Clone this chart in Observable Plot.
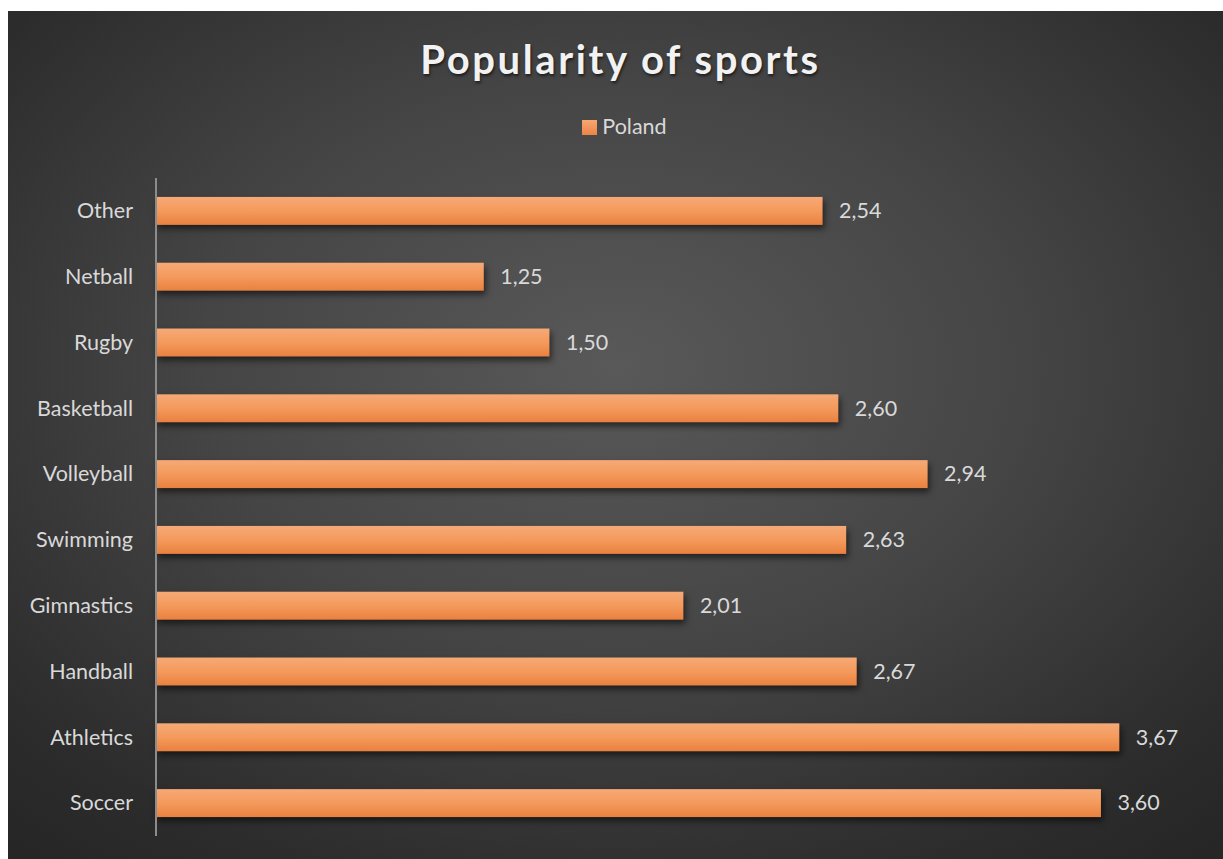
<!DOCTYPE html>
<html>
<head>
<meta charset="utf-8">
<script src="https://cdn.jsdelivr.net/npm/d3@7"></script>
<script src="https://cdn.jsdelivr.net/npm/@observablehq/plot@0.6"></script>
<style>
  html, body { margin: 0; padding: 0; background: #ffffff; }
  #wrap { position: relative; width: 1223px; height: 859px; overflow: hidden; background: #ffffff; }
  #panel { position: absolute; left: 8px; top: 11px; width: 1215px; height: 848px;
    background: radial-gradient(ellipse 75% 75% at 50% 42%, #595959 0%, #454545 45%, #2c2c2c 85%, #262626 100%); }
  #title { position: absolute; left: 8px; width: 1215px; top: 33px; text-align: center;
    font-family: Lato, "Open Sans", sans-serif; font-weight: bold; font-size: 40px; letter-spacing: 2.6px;
    color: #f2f2f2; text-shadow: 1px 2px 3px rgba(0,0,0,0.6); line-height: 52px; padding-left: 10px; box-sizing: border-box; }
  #legend { position: absolute; left: 8px; width: 1215px; top: 112px; text-align: center;
    font-family: Lato, "Open Sans", sans-serif; font-size: 21.5px; color: #d9d9d9; line-height: 28px; padding-left: 18px; box-sizing: border-box; }
  #legend .sw { display: inline-block; width: 15px; height: 15px; vertical-align: -1px; margin-right: 5px;
    background: linear-gradient(#f6a872, #ec8447); }
  #chart { position: absolute; left: 0; top: 0; }
  #chart svg { background: transparent; overflow: visible; }
  g[aria-label="bar"] rect { filter: drop-shadow(2px 4px 3px rgba(0,0,0,0.55)); }
</style>
</head>
<body>
<div id="wrap">
  <div id="panel"></div>
  <div id="title">Popularity of sports</div>
  <div id="legend"><span class="sw"></span>Poland</div>
  <div id="chart"></div>
</div>
<script>
const sports = ["Other", "Netball", "Rugby", "Basketball", "Volleyball", "Swimming", "Gimnastics", "Handball", "Athletics", "Soccer"];
const poland = [2.54, 1.25, 1.50, 2.60, 2.94, 2.63, 2.01, 2.67, 3.67, 3.60];
const seriesName = "Poland";

const data = sports.map((s, i) => ({sport: s, value: poland[i]}));
const fmt = v => d3.format(".2f")(v).replace(".", ",");

const defs = () => {
  const d = d3.create("svg:defs");
  const g = d.append("linearGradient").attr("id", "barGrad").attr("x1", 0).attr("y1", 0).attr("x2", 0).attr("y2", 1);
  g.append("stop").attr("offset", "0%").attr("stop-color", "#f6a976");
  g.append("stop").attr("offset", "50%").attr("stop-color", "#f49a5c");
  g.append("stop").attr("offset", "100%").attr("stop-color", "#e9813f");
  return d.node();
};

const plot = Plot.plot({
  width: 1223,
  height: 859,
  marginTop: 178,
  marginBottom: 23,
  marginLeft: 155.5,
  marginRight: 17,
  style: {background: "transparent", fontFamily: "Lato, 'Open Sans', sans-serif", fontSize: "21.5px", color: "#d9d9d9"},
  x: {domain: [0, 4], axis: null},
  y: {domain: sports, paddingInner: 0.575, paddingOuter: 0.2875, align: 0.5, round: false, label: null},
  marks: [
    defs,
    Plot.barX(data, {x: "value", y: "sport", fill: "url(#barGrad)"}),
    Plot.ruleX([0], {stroke: "#8c8c8c", strokeWidth: 2}),
    Plot.axisY({tickSize: 0, tickPadding: 23, fontSize: 21.5, fill: "#d9d9d9", label: null}),
    Plot.text(data, {x: "value", y: "sport", text: d => fmt(d.value), textAnchor: "start", dx: 16, fill: "#d9d9d9", fontSize: 21.5})
  ]
});
document.getElementById("chart").appendChild(plot);
</script>
</body>
</html>
